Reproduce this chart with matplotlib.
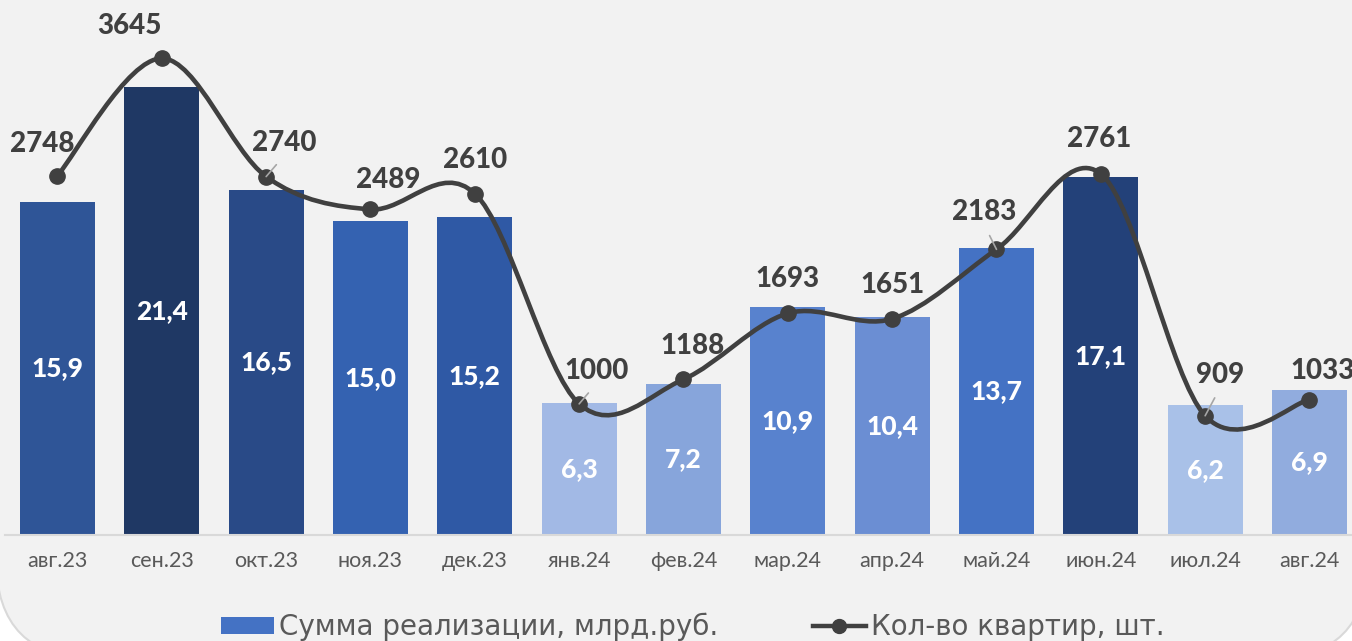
import matplotlib
matplotlib.use("Agg")
import matplotlib.pyplot as plt
import numpy as np
from matplotlib.path import Path
from matplotlib.patches import PathPatch, FancyBboxPatch, Patch
from matplotlib.lines import Line2D
from matplotlib.transforms import IdentityTransform

plt.rcParams['font.family'] = ['Lato', 'DejaVu Sans']

# data
months = ["авг.23", "сен.23", "окт.23", "ноя.23", "дек.23", "янв.24", "фев.24",
          "мар.24", "апр.24", "май.24", "июн.24", "июл.24", "авг.24"]
sales = [15.9, 21.4, 16.5, 15.0, 15.2, 6.3, 7.2, 10.9, 10.4, 13.7, 17.1, 6.2, 6.9]
flats = [2748, 3645, 2740, 2489, 2610, 1000, 1188, 1693, 1651, 2183, 2761, 909, 1033]

bar_colors = ["#2F5597", "#1F3864", "#294A87", "#3462B1", "#2F59A5", "#A2B9E5", "#87A5DB",
              "#5882CE", "#6B8ED3", "#4472C4", "#234179", "#A9C1E8", "#91ACDE"]
# label offsets in pixels (dx, dy) and whether a leader line is drawn
lbl_off = [(-15, 32), (-32, 32), (18, 34), (18, 29), (0, 34), (17, 33), (9, 33),
           (0, 34), (0, 34), (-12, 37), (-2, 35), (15, 41), (13, 29)]
leader = [False, False, True, False, False, True, False, False, False, True, False, True, False]

W, H = 1352, 641
fig = plt.figure(figsize=(W / 100, H / 100), dpi=100, facecolor="white")

# rounded card background
card = FancyBboxPatch((-4, -18), 1372, 760, boxstyle="round,pad=0,rounding_size=100",
                      transform=IdentityTransform(), facecolor="#F2F2F2",
                      edgecolor="#D9D9D9", linewidth=1.5, zorder=-10)
fig.patches.append(card)

x = np.arange(len(months))
ax = fig.add_axes([5.33 / W, (H - 534.5) / H, 1356.3 / W, 522.5 / H])
ax.patch.set_alpha(0)
ax.bar(x, sales, width=0.72, color=bar_colors, zorder=2)
ax.set_xlim(-0.5, len(months) - 0.5)
ax.set_ylim(0, 25)
ax.set_yticks([])
for s in ["top", "left", "right"]:
    ax.spines[s].set_visible(False)
ax.spines["bottom"].set_color("#D9D9D9")
ax.spines["bottom"].set_linewidth(1.5)
ax.set_xticks(x)
ax.set_xticklabels(months, fontsize=15.5, color="#595959")
ax.tick_params(axis="x", length=0, pad=12)

for xi, v in zip(x, sales):
    ax.text(xi, v / 2, f"{v:.1f}".replace(".", ","), ha="center", va="center",
            color="white", fontsize=19, fontweight=900, zorder=3)

# smoothed line (Catmull-Rom style, like Excel smoothing)
ax2 = ax.twinx()
ax2.set_ylim(0, 4000)
ax2.axis("off")
pts = np.column_stack([x, flats]).astype(float)
n = len(pts)
verts = [pts[0]]
codes = [Path.MOVETO]
for i in range(n - 1):
    p0 = pts[i - 1] if i > 0 else pts[i]
    p1, p2 = pts[i], pts[i + 1]
    p3 = pts[i + 2] if i + 2 < n else pts[i + 1]
    verts += [p1 + (p2 - p0) / 6, p2 - (p3 - p1) / 6, p2]
    codes += [Path.CURVE4] * 3
ax2.add_patch(PathPatch(Path(verts, codes), facecolor="none", edgecolor="#404040",
                        linewidth=3.3, capstyle="round", zorder=4))
ax2.plot(x, flats, linestyle="none", marker="o", markersize=11, color="#404040", zorder=5)

for xi, v, (dx, dy), ld in zip(x, flats, lbl_off, leader):
    kw = {}
    if ld:
        kw["arrowprops"] = dict(arrowstyle="-", color="#A6A6A6", lw=1.2,
                                shrinkA=6, shrinkB=0, relpos=(0.5, 0.0))
    ax2.annotate(str(v), xy=(xi, v), xytext=(dx * 0.72, dy * 0.72), textcoords="offset points",
                 ha="center", va="center", fontsize=20, fontweight=900, color="#404040",
                 zorder=6, **kw)

handles = [Patch(facecolor="#4472C4", label="Сумма реализации, млрд.руб."),
           Line2D([0], [0], color="#404040", lw=3.2, marker="o", markersize=10,
                  label="Кол-во квартир, шт.")]
fig.legend(handles=handles, loc="center", bbox_to_anchor=(693 / W, 1 - 627 / H),
           ncol=2, frameon=False, prop={"family": "DejaVu Sans", "size": 20},
           labelcolor="#595959",
           handlelength=1.9, handleheight=0.58, handletextpad=0.2, columnspacing=3.4,
           borderpad=0, borderaxespad=0)

fig.savefig("out.png", dpi=100, facecolor="white")
